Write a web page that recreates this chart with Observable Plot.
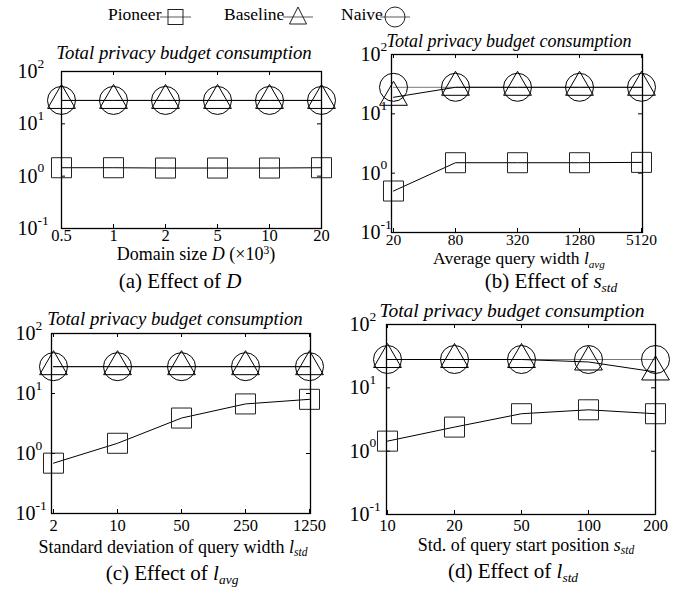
<!DOCTYPE html>
<html><head><meta charset="utf-8">
<script src="https://cdn.jsdelivr.net/npm/d3@7"></script>
<script src="https://cdn.jsdelivr.net/npm/@observablehq/plot@0.6"></script>
<style>
body{margin:0;background:#fff;}
#root{position:relative;width:699px;height:590px;font-family:"Liberation Serif","Times New Roman",serif;color:#000;overflow:hidden;background:#fff;}
.lbl{position:absolute;transform:translate(-50%,-50%);white-space:nowrap;line-height:1;}
.ttl{font-style:italic;}
.xl{font-size:18px;}
.cap{font-size:21px;}
sub{font-size:64%;vertical-align:-0.3em;line-height:0;font-style:italic;}
sup{font-size:64%;vertical-align:0.55em;line-height:0;}
.panel{position:absolute;}
.panel svg{overflow:visible;}
</style></head><body><div id="root"></div>
<script>
// ---- data ----
const yTicks = [0.1, 1, 10, 100];
const yTickExp = ["-1", "0", "1", "2"];

const catsA = ["0.5", "1", "2", "5", "10", "20"];
const pioneerA = [1.45, 1.45, 1.43, 1.43, 1.43, 1.45];
const baselineA = [28, 28, 28, 28, 28, 28];
const naiveA = [28, 28, 28, 28, 28, 28];

const catsB = ["20", "80", "320", "1280", "5120"];
const pioneerB = [0.5, 1.5, 1.5, 1.5, 1.52];
const baselineB = [19, 28, 28, 28, 28];
const naiveB = [28, 28, 28, 28, 28];

const catsC = ["2", "10", "50", "250", "1250"];
const pioneerC = [0.69, 1.48, 3.9, 6.7, 8.0];
const baselineC = [28, 28, 28, 28, 28];
const naiveC = [28, 28, 28, 28, 28];

const catsD = ["10", "20", "50", "100", "200"];
const pioneerD = [1.44, 2.4, 3.9, 4.5, 3.9];
const baselineD = [28, 28, 28, 25.6, 17.8];
const naiveD = [28, 28, 28, 28, 28];

const root = document.getElementById("root");

function addLabel(html, cls, cx, cy, extra) {
  const d = document.createElement("div");
  d.className = "lbl " + cls;
  d.style.left = cx + "px";
  d.style.top = cy + "px";
  if (extra) Object.assign(d.style, extra);
  d.innerHTML = html;
  root.appendChild(d);
}

function panel(o) {
  const rows = s => o.cats.map((c, i) => ({x: c, y: s[i]}));
  const fw = o.width - o.mL - o.mR, fh = o.height - o.mT - o.mB;
  const chart = Plot.plot({
    width: o.width, height: o.height,
    marginLeft: o.mL, marginRight: o.mR, marginTop: o.mT, marginBottom: o.mB,
    style: {background: "transparent", fontFamily: "Liberation Serif, serif", color: "black", overflow: "visible"},
    x: {type: "point", domain: o.cats, padding: 0},
    y: {type: "log", domain: [0.1, 100], axis: null},
    marks: [
      Plot.axisX({anchor: "bottom", tickSize: 0, tickPadding: o.tickPad, fontSize: o.tickFont, label: null}),
      Plot.tickY(yTicks, {y: d => d, insetRight: fw - 4, stroke: "black"}),
      Plot.tickY(yTicks, {y: d => d, insetLeft: fw - 4, stroke: "black"}),
      Plot.tickX(o.cats, {x: d => d, insetBottom: fh - 4, stroke: "black"}),
      Plot.tickX(o.cats, {x: d => d, insetTop: fh - 4, stroke: "black"}),
      Plot.text(yTicks, {y: d => d, text: () => "10", frameAnchor: "left", textAnchor: "start", dx: o.yOff, fontSize: 20}),
      Plot.text(yTicks, {y: d => d, text: (d, i) => yTickExp[i], frameAnchor: "left", textAnchor: "start", dx: o.yOff + 20, dy: -8, fontSize: 13.5}),
      Plot.line(rows(o.naive), {x: "x", y: "y", stroke: "#777", strokeWidth: 1}),
      Plot.line(rows(o.baseline), {x: "x", y: "y", stroke: "black", strokeWidth: 1}),
      Plot.line(rows(o.pioneer), {x: "x", y: "y", stroke: "black", strokeWidth: 1}),
      Plot.dot(rows(o.naive), {x: "x", y: "y", symbol: "circle", r: 14, stroke: "black", fill: "none", strokeWidth: 1}),
      Plot.dot(rows(o.baseline), {x: "x", y: "y", symbol: "triangle", r: 10.3, stroke: "black", fill: "none", strokeWidth: 1}),
      Plot.dot(rows(o.pioneer), {x: "x", y: "y", symbol: "square", r: 11.3, stroke: "#222", fill: "none", strokeWidth: 1}),
      Plot.frame({stroke: "black", strokeWidth: 1.3})
    ]
  });
  const wrap = document.createElement("div");
  wrap.className = "panel";
  wrap.style.left = o.left + "px";
  wrap.style.top = o.top + "px";
  wrap.appendChild(chart);
  root.appendChild(wrap);
}

panel({cats: catsA, pioneer: pioneerA, baseline: baselineA, naive: naiveA,
  left: 0, top: 60, width: 350, height: 200, mL: 61, mR: 29, mT: 11, mB: 32, tickPad: 1, tickFont: 16.5, yOff: -44});
panel({cats: catsB, pioneer: pioneerB, baseline: baselineB, naive: naiveB,
  left: 350, top: 40, width: 349, height: 220, mL: 41, mR: 57, mT: 14, mB: 28, tickPad: 1, tickFont: 15.5, yOff: -31});
panel({cats: catsC, pioneer: pioneerC, baseline: baselineC, naive: naiveC,
  left: 0, top: 320, width: 350, height: 220, mL: 51, mR: 40, mT: 13, mB: 27, tickPad: 6, tickFont: 16.5, yOff: -36});
panel({cats: catsD, pioneer: pioneerD, baseline: baselineD, naive: naiveD,
  left: 350, top: 310, width: 349, height: 230, mL: 36, mR: 44, mT: 14, mB: 26, tickPad: 5, tickFont: 16.5, yOff: -37});

// titles
const T = "Total privacy budget consumption";
addLabel(T, "ttl", 184, 53, {fontSize: "18.8px"});
addLabel(T, "ttl", 509, 41, {fontSize: "18px"});
addLabel(T, "ttl", 175, 319, {fontSize: "18.8px"});
addLabel(T, "ttl", 512, 311, {fontSize: "19.5px"});

// x-axis labels
addLabel('Domain size <i>D</i> (×10<sup>3</sup>)', "xl", 196, 254);
addLabel('Average query width <i>l</i><sub>avg</sub>', "xl", 519, 259, {fontSize: "17.5px"});
addLabel('Standard deviation of query width <i>l</i><sub>std</sub>', "xl", 173, 547);
addLabel('Std. of query start position <i>s</i><sub>std</sub>', "xl", 526, 545);

// captions
addLabel('(a) Effect of <i>D</i>', "cap", 180, 281);
addLabel('(b) Effect of <i>s</i><sub>std</sub>', "cap", 551, 281);
addLabel('(c) Effect of <i>l</i><sub>avg</sub>', "cap", 172, 573);
addLabel('(d) Effect of <i>l</i><sub>std</sub>', "cap", 513, 571);

// legend
const ns = "http://www.w3.org/2000/svg";
const lg = document.createElementNS(ns, "svg");
lg.setAttribute("width", 699); lg.setAttribute("height", 32);
lg.style.position = "absolute"; lg.style.left = "0px"; lg.style.top = "0px";
lg.innerHTML = `
<g font-family="Liberation Serif, serif" font-size="17.5" fill="black">
<text x="108" y="20">Pioneer</text>
<text x="224" y="20">Baseline</text>
<text x="341" y="20">Naive</text>
</g>
<g stroke="#777" stroke-width="1.2" fill="none">
<line x1="160" x2="191" y1="17" y2="17"/>
<line x1="283" x2="313" y1="17" y2="17"/>
<line x1="380" x2="410" y1="17" y2="17"/>
</g>
<g stroke="#222" stroke-width="1" fill="none">
<rect x="168" y="9.5" width="15" height="15"/>
<path d="M298,7 L306.5,24 L289.5,24 Z"/>
<circle cx="395" cy="17" r="10"/>
</g>`;
root.appendChild(lg);
</script>
</body></html>
